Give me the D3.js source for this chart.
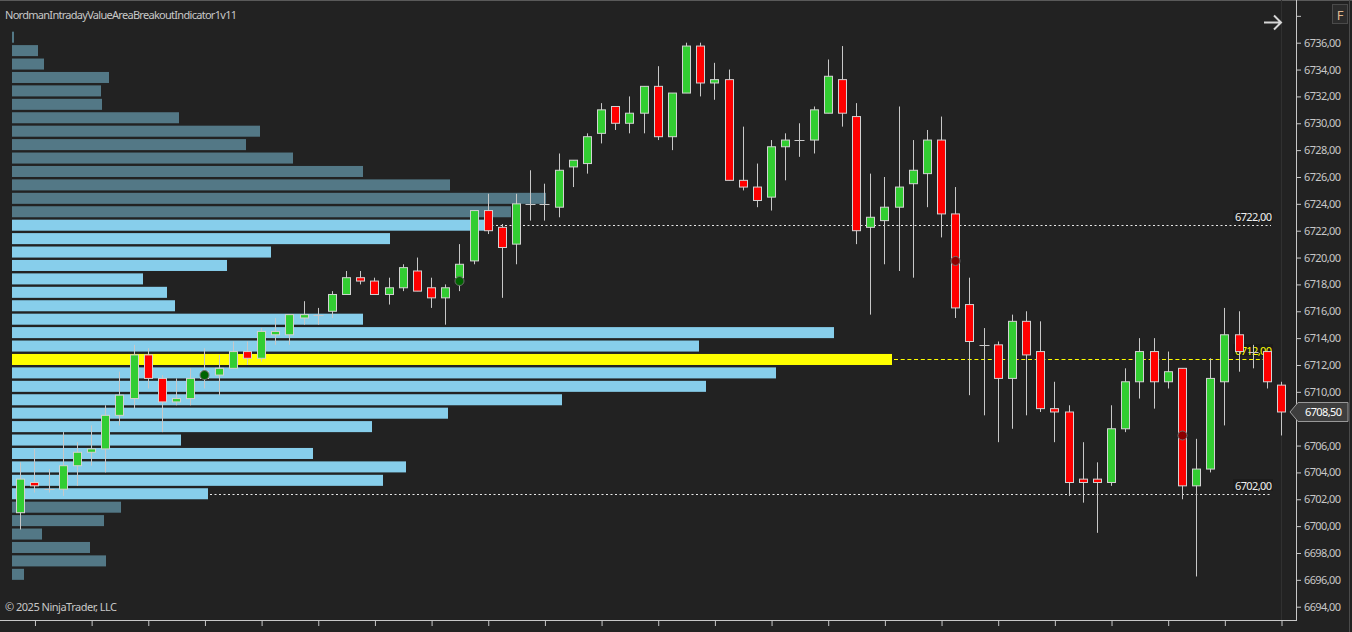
<!DOCTYPE html>
<html>
<head>
<meta charset="utf-8">
<script src="https://cdn.jsdelivr.net/npm/d3@7"></script>
<style>
  html, body { margin: 0; padding: 0; background: #222222; }
  svg { display: block; }
  text { font-family: "Noto Sans", "Open Sans", sans-serif; }
</style>
</head>
<body>
<div id="chart"></div>
<script>
// candles, one per bar (index = bar number)
const opens = [6701.0, 6703.25, 6702.75, 6702.75, 6704.5, 6705.5, 6705.75, 6708.25, 6709.5, 6712.75,
  6711.0, 6709.25, 6709.5, 6711.0, 6711.25, 6711.75, 6713.0, 6712.5, 6714.25, 6714.25,
  6715.5, 6715.75, 6716.0, 6717.25, 6718.5, 6718.25, 6717.25, 6717.75, 6719.0, 6717.75,
  6717.0, 6718.5, 6719.75, 6723.5, 6722.25, 6721.0, 6724.0, 6724.0, 6723.75, 6726.75,
  6727.0, 6729.25, 6731.25, 6730.0, 6730.75, 6732.75, 6729.0, 6732.25, 6735.75, 6733.0,
  6733.25, 6725.75, 6725.25, 6724.5, 6728.25, 6728.75, 6728.75, 6730.75, 6733.25, 6730.5,
  6722.25, 6722.75, 6723.75, 6725.5, 6726.25, 6728.75, 6723.25, 6716.5, 6713.5, 6713.5,
  6711.0, 6715.25, 6713.0, 6708.75, 6708.5, 6703.5, 6703.5, 6703.25, 6707.25, 6710.75,
  6713.0, 6710.75, 6711.75, 6703.0, 6704.25, 6710.75, 6714.25, 6713.0, 6713.0, 6710.5];
const highs = [6704.75, 6705.75, 6704.25, 6707.0, 6706.25, 6707.5, 6709.0, 6711.5, 6713.5, 6713.25,
  6711.25, 6711.0, 6711.75, 6713.25, 6712.75, 6713.75, 6713.75, 6714.75, 6715.5, 6715.75,
  6716.75, 6716.25, 6717.5, 6719.0, 6719.0, 6718.5, 6718.5, 6719.5, 6720.0, 6718.5,
  6718.0, 6721.0, 6723.5, 6724.75, 6722.5, 6724.75, 6726.5, 6725.5, 6727.75, 6727.25,
  6729.25, 6731.5, 6731.25, 6732.0, 6732.75, 6734.25, 6732.25, 6736.0, 6736.0, 6734.5,
  6734.0, 6729.75, 6727.0, 6728.75, 6729.25, 6730.0, 6731.25, 6734.75, 6735.75, 6731.5,
  6726.25, 6726.0, 6731.25, 6728.75, 6729.5, 6730.5, 6725.25, 6718.5, 6714.75, 6713.75,
  6715.75, 6716.0, 6715.25, 6710.75, 6709.0, 6706.25, 6704.75, 6709.0, 6711.75, 6714.0,
  6714.0, 6713.0, 6711.75, 6706.5, 6712.5, 6716.25, 6716.0, 6713.5, 6713.0, 6710.75];
const lows = [6699.75, 6702.5, 6702.5, 6702.25, 6703.0, 6704.5, 6704.0, 6707.5, 6708.75, 6710.25,
  6707.0, 6709.0, 6709.0, 6710.25, 6709.75, 6711.75, 6712.0, 6712.25, 6713.5, 6713.5,
  6715.0, 6715.0, 6715.5, 6717.25, 6718.0, 6717.25, 6716.5, 6717.5, 6717.5, 6716.25,
  6715.0, 6717.5, 6719.5, 6721.75, 6717.0, 6719.5, 6722.75, 6722.75, 6723.0, 6725.25,
  6726.25, 6728.5, 6729.5, 6729.25, 6729.25, 6728.75, 6728.0, 6732.25, 6732.0, 6731.75,
  6725.75, 6725.0, 6723.75, 6723.5, 6725.75, 6727.5, 6727.75, 6730.75, 6729.75, 6721.0,
  6715.75, 6719.5, 6719.0, 6718.5, 6723.75, 6721.5, 6715.5, 6709.75, 6708.25, 6706.25,
  6707.25, 6708.25, 6708.5, 6706.25, 6702.25, 6701.75, 6699.5, 6703.0, 6707.0, 6709.5,
  6708.75, 6710.25, 6702.0, 6696.25, 6704.0, 6707.5, 6711.5, 6711.75, 6710.25, 6706.75];
const closes = [6703.5, 6703.0, 6702.75, 6704.5, 6705.5, 6705.75, 6708.25, 6709.75, 6712.75, 6711.0,
  6709.25, 6709.5, 6711.0, 6711.5, 6711.75, 6713.0, 6712.5, 6714.5, 6714.5, 6715.75,
  6715.75, 6715.75, 6717.25, 6718.5, 6718.25, 6717.25, 6717.75, 6719.25, 6717.5, 6717.0,
  6717.75, 6719.5, 6723.5, 6722.0, 6720.75, 6724.0, 6724.0, 6724.0, 6726.5, 6727.25,
  6729.0, 6731.0, 6730.0, 6730.75, 6732.75, 6729.0, 6732.25, 6735.75, 6733.0, 6733.25,
  6725.75, 6725.25, 6724.25, 6728.25, 6728.75, 6728.75, 6731.0, 6733.5, 6730.75, 6722.0,
  6723.0, 6723.75, 6725.25, 6726.5, 6728.75, 6723.25, 6716.25, 6713.75, 6713.5, 6711.0,
  6715.25, 6712.75, 6708.75, 6708.5, 6703.25, 6703.25, 6703.25, 6707.25, 6710.75, 6713.0,
  6710.75, 6711.5, 6703.0, 6704.25, 6711.0, 6714.25, 6713.0, 6713.0, 6710.75, 6708.5];

// breakout signal dots
const signalBars = [13, 31, 66, 82];
const signalPrices = [6711.25, 6718.25, 6719.75, 6706.75];
const signalSides = ['long', 'long', 'short', 'short'];

// volume profile, one row per price level
const profilePrices = [6736, 6735, 6734, 6733, 6732, 6731, 6730, 6729, 6728, 6727, 6726, 6725, 6724, 6723,
  6722, 6721, 6720, 6719, 6718, 6717, 6716, 6715, 6714, 6713, 6712, 6711, 6710, 6709, 6708, 6707,
  6706, 6705, 6704, 6703, 6702, 6701, 6700, 6699, 6698, 6697, 6696];
const profileVolumes = [2, 26, 32, 97, 89, 90, 167, 248, 234, 281, 351, 438, 534, 499,
  473, 378, 259, 215, 131, 155, 163, 351, 822, 687, 880, 764, 694, 550, 436, 360,
  169, 301, 394, 371, 196, 109, 92, 30, 78, 94, 12];
const vaHigh = 6722;
const vaLow = 6702;
const poc = 6712;

const priceTicks = d3.range(6694, 6739, 2);
const lastPrice = 6708.5;

const W = 1352, H = 632;
const axisX = 1296, axisY = 620;
const bg = '#222222';
const fmt = v => d3.format('.2f')(v).replace('.', ',');

const svg = d3.select('#chart').append('svg')
  .attr('width', W).attr('height', H)
  .style('background', bg);

const y = d3.scaleLinear().domain([6694, 6736]).range([606.7, 42.7]);
const x = d3.scaleLinear().domain([0, opens.length - 1]).range([20.3, 1281]);
const vx = d3.scaleLinear().domain([0, 880]).range([12, 892]);

// frame
svg.append('line').attr('x1', 0).attr('x2', W).attr('y1', 0.5).attr('y2', 0.5)
  .attr('stroke', '#5a5a5a');
svg.append('line').attr('x1', 1349.5).attr('x2', 1349.5).attr('y1', 0).attr('y2', H)
  .attr('stroke', '#4a4a4a');
svg.append('line').attr('x1', x(opens.length - 1) + 0.5).attr('x2', x(opens.length - 1) + 0.5)
  .attr('y1', 0).attr('y2', axisY).attr('stroke', '#303030');

// volume profile rows
const rowGap = 2.4;
svg.append('g').selectAll('rect')
  .data(profilePrices)
  .join('rect')
  .attr('x', vx(0))
  .attr('y', p => y(p + 1) + rowGap)
  .attr('width', (p, i) => vx(profileVolumes[i]) - vx(0))
  .attr('height', p => y(p) - y(p + 1) - rowGap)
  .attr('fill', p => p === poc ? '#ffff00' : (p <= vaHigh && p >= vaLow ? '#87ceeb' : '#537886'));

// value area / poc lines and their labels (behind the candles)
const rowMid = p => (y(p + 1) + rowGap + y(p)) / 2;
const levels = [
  {p: vaHigh, color: '#e8e8e8', dash: '2,2.5'},
  {p: poc, color: '#ffff00', dash: '4,2.7'},
  {p: vaLow, color: '#e8e8e8', dash: '2,2.5'}
];
levels.forEach(l => {
  const i = profilePrices.indexOf(l.p);
  const ly = Math.round(rowMid(l.p)) + 0.5;
  svg.append('line')
    .attr('x1', vx(profileVolumes[i]) + 2).attr('x2', 1271)
    .attr('y1', ly).attr('y2', ly)
    .attr('stroke', l.color).attr('stroke-dasharray', l.dash);
  const cy = Math.round(rowMid(l.p)) - 9;
  svg.append('rect')
    .attr('x', 1233).attr('y', cy - 6).attr('width', 40).attr('height', 12)
    .attr('fill', '#1c1c1c');
  svg.append('text')
    .attr('x', 1235).attr('y', cy)
    .attr('dominant-baseline', 'central')
    .attr('font-size', 11)
    .attr('fill', l.p === poc ? '#ffff00' : '#f0f0f0')
    .attr('textLength', 37)
    .text(fmt(l.p));
});

// candles
const bars = d3.range(opens.length);
const gC = svg.append('g');
gC.selectAll('line.wick')
  .data(bars)
  .join('line')
  .attr('class', 'wick')
  .attr('x1', i => Math.round(x(i)) + 0.5).attr('x2', i => Math.round(x(i)) + 0.5)
  .attr('y1', i => y(highs[i])).attr('y2', i => y(lows[i]))
  .attr('stroke', '#c8c8c8');

const bodyW = 8;
gC.selectAll('rect.body')
  .data(bars.filter(i => opens[i] !== closes[i]))
  .join('rect')
  .attr('class', 'body')
  .attr('x', i => Math.round(x(i)) - bodyW / 2 + 0.5)
  .attr('y', i => y(Math.max(opens[i], closes[i])))
  .attr('width', bodyW)
  .attr('height', i => Math.abs(y(opens[i]) - y(closes[i])))
  .attr('fill', i => closes[i] > opens[i] ? '#32cd32' : '#ff0000')
  .attr('stroke', '#d2d2d2');

gC.selectAll('line.doji')
  .data(bars.filter(i => opens[i] === closes[i]))
  .join('line')
  .attr('class', 'doji')
  .attr('x1', i => Math.round(x(i)) - 4.5).attr('x2', i => Math.round(x(i)) + 5.5)
  .attr('y1', i => Math.round(y(opens[i])) + 0.5).attr('y2', i => Math.round(y(opens[i])) + 0.5)
  .attr('stroke', '#c8c8c8');

// signal dots
svg.append('g').selectAll('circle')
  .data(signalBars)
  .join('circle')
  .attr('cx', i => Math.round(x(i)) + 0.5)
  .attr('cy', (i, k) => y(signalPrices[k]))
  .attr('r', 4.5)
  .attr('fill', (i, k) => signalSides[k] === 'long' ? '#006400' : '#8b0000')
  .attr('stroke', '#6e6e6e')
  .attr('stroke-width', 1);

// price axis (the 6708 label sits under the last price marker, so it is left out)
const yAxis = svg.append('g')
  .attr('transform', `translate(${axisX},0)`)
  .call(d3.axisRight(y).tickValues(priceTicks).tickSize(5).tickSizeOuter(0)
    .tickFormat(v => (v > 6736 || Math.abs(v - lastPrice) < 1) ? '' : fmt(v)));
yAxis.select('.domain').remove();
yAxis.selectAll('line').attr('stroke', '#c8c8c8');
yAxis.selectAll('text').attr('fill', '#c8c8c8').attr('font-size', 11)
  .attr('font-family', '"Noto Sans", sans-serif')
  .filter(function () { return this.textContent !== ''; })
  .attr('textLength', 37);
svg.append('line').attr('x1', axisX + 0.5).attr('x2', axisX + 0.5).attr('y1', 0).attr('y2', axisY + 1)
  .attr('stroke', '#c8c8c8');

// time axis
const xAxis = svg.append('g')
  .attr('transform', `translate(0.5,${axisY})`)
  .call(d3.axisBottom(x).tickValues(bars.filter(i => i % 4 === 1)).tickSize(6).tickSizeOuter(0)
    .tickFormat(''));
xAxis.select('.domain').remove();
xAxis.selectAll('line').attr('stroke', '#c8c8c8');
svg.append('line').attr('x1', 0).attr('x2', axisX + 1).attr('y1', axisY + 0.5).attr('y2', axisY + 0.5)
  .attr('stroke', '#c8c8c8');

// last price marker
const ly = y(lastPrice);
svg.append('path')
  .attr('d', `M1290,${ly} L1298,${ly - 9.5} L1348,${ly - 9.5} L1348,${ly + 9.5} L1298,${ly + 9.5} Z`)
  .attr('fill', '#3e3e3e').attr('stroke', '#9a9a9a');
svg.append('text')
  .attr('x', 1305).attr('y', ly)
  .attr('dominant-baseline', 'central')
  .attr('font-size', 11).attr('fill', '#ffffff').attr('textLength', 37)
  .text(fmt(lastPrice));

// titles
svg.append('text')
  .attr('x', 5).attr('y', 14)
  .attr('dominant-baseline', 'central')
  .attr('font-size', 11).attr('fill', '#c8c8c8').attr('textLength', 232)
  .text('NordmanIntradayValueAreaBreakoutIndicator1v11');
svg.append('text')
  .attr('x', 5).attr('y', 606)
  .attr('dominant-baseline', 'central')
  .attr('font-size', 11).attr('fill', '#c8c8c8').attr('textLength', 112)
  .text('© 2025 NinjaTrader, LLC');

// arrow and F button
svg.append('path')
  .attr('d', 'M1264,22.5 L1281,22.5 M1274,15.5 L1281,22.5 L1274,29.5')
  .attr('fill', 'none').attr('stroke', '#d6d6d6').attr('stroke-width', 2);
svg.append('rect')
  .attr('x', 1332.5).attr('y', 4.5).attr('width', 15).attr('height', 19)
  .attr('fill', '#2c2c2c').attr('stroke', '#4a4a4a');
svg.append('text')
  .attr('x', 1340).attr('y', 14.5)
  .attr('text-anchor', 'middle').attr('dominant-baseline', 'central')
  .attr('font-size', 13).attr('fill', '#e0b890')
  .text('F');
</script>
</body>
</html>
